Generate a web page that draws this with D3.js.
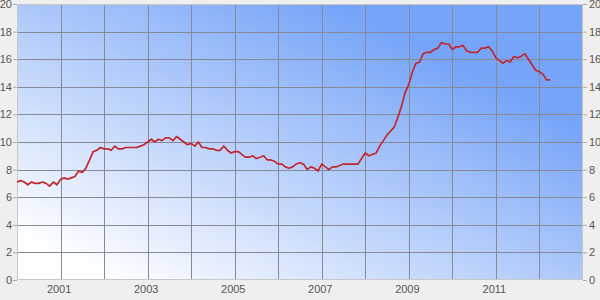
<!DOCTYPE html>
<html>
<head>
<meta charset="utf-8">
<script src="https://cdn.jsdelivr.net/npm/d3@7"></script>
<style>
  body { margin: 0; background: #efefef; }
  svg { display: block; }
  .tick-label { font-family: "Liberation Sans", Arial, sans-serif; font-size: 11px; fill: #555; }
</style>
</head>
<body>
<svg id="chart" width="600" height="300"></svg>
<script>
// monthly rate, Jan 2000 onwards
var years = [2000, 2001, 2002, 2003, 2004, 2005, 2006, 2007, 2008, 2009, 2010, 2011, 2012];
var rates = [
  [7.1, 7.2, 7.1, 6.9, 7.1, 7.0, 7.0, 7.1, 7.0, 6.8, 7.1, 6.9],
  [7.3, 7.4, 7.3, 7.4, 7.5, 7.9, 7.8, 8.1, 8.7, 9.3, 9.4, 9.6],
  [9.5, 9.5, 9.4, 9.7, 9.5, 9.5, 9.6, 9.6, 9.6, 9.6, 9.7, 9.8],
  [10.0, 10.2, 10.0, 10.2, 10.1, 10.3, 10.3, 10.1, 10.4, 10.2, 10.0, 9.8],
  [9.9, 9.7, 10.0, 9.6, 9.6, 9.5, 9.5, 9.4, 9.4, 9.7, 9.4, 9.2],
  [9.3, 9.3, 9.1, 8.9, 8.9, 9.0, 8.8, 8.9, 9.0, 8.7, 8.7, 8.6],
  [8.4, 8.4, 8.2, 8.1, 8.2, 8.4, 8.5, 8.4, 8.0, 8.2, 8.1, 7.9],
  [8.4, 8.2, 8.0, 8.2, 8.2, 8.3, 8.4, 8.4, 8.4, 8.4, 8.4, 8.8],
  [9.2, 9.0, 9.1, 9.2, 9.7, 10.1, 10.5, 10.8, 11.1, 11.8, 12.6, 13.6],
  [14.2, 15.1, 15.7, 15.8, 16.4, 16.5, 16.5, 16.7, 16.8, 17.2, 17.1, 17.1],
  [16.7, 16.9, 16.9, 17.0, 16.6, 16.5, 16.5, 16.5, 16.8, 16.8, 16.9, 16.6],
  [16.1, 15.9, 15.7, 15.9, 15.8, 16.2, 16.1, 16.2, 16.4, 16.0, 15.6, 15.2],
  [15.1, 14.9, 14.5, 14.5]
];
var yTicks = [0, 2, 4, 6, 8, 10, 12, 14, 16, 18, 20];
var xLabelYears = [2001, 2003, 2005, 2007, 2009, 2011];

var plotLeft = 17, plotRight = 583, plotTop = 4, plotBottom = 280;

var points = [];
rates.forEach(function(row, i) {
  row.forEach(function(v, m) {
    points.push({date: new Date(years[i], m, 1), value: v});
  });
});

var x = d3.scaleTime()
  .domain([new Date(2000, 0, 1), new Date(2013, 0, 1)])
  .range([plotLeft, plotRight]);
var y = d3.scaleLinear().domain([0, 20]).range([plotBottom, plotTop]);

var svg = d3.select('#chart');

var grad = svg.append('defs').append('linearGradient')
  .attr('id', 'bg')
  .attr('x1', 0).attr('y1', 1).attr('x2', 1).attr('y2', 0);
grad.append('stop').attr('offset', 0.08).attr('stop-color', '#ffffff');
grad.append('stop').attr('offset', 0.78).attr('stop-color', '#76a4f8');
grad.append('stop').attr('offset', 1).attr('stop-color', '#76a4f8');

svg.append('rect')
  .attr('x', plotLeft).attr('y', plotTop)
  .attr('width', plotRight - plotLeft).attr('height', plotBottom - plotTop)
  .attr('fill', 'url(#bg)');

// grid
var gridYears = d3.range(2001, 2013).map(function(yr) { return new Date(yr, 0, 1); });
svg.append('g').selectAll('line').data(gridYears).join('line')
  .attr('x1', function(d) { return Math.round(x(d)) + 0.5; })
  .attr('x2', function(d) { return Math.round(x(d)) + 0.5; })
  .attr('y1', plotTop).attr('y2', plotBottom)
  .attr('stroke', '#858a94').attr('stroke-width', 1);
svg.append('g').selectAll('line').data(yTicks.slice(1, -1)).join('line')
  .attr('x1', plotLeft).attr('x2', plotRight)
  .attr('y1', function(d) { return Math.round(y(d)) + 0.5; })
  .attr('y2', function(d) { return Math.round(y(d)) + 0.5; })
  .attr('stroke', '#858a94').attr('stroke-width', 1);

// frame
svg.append('rect')
  .attr('x', plotLeft + 0.5).attr('y', plotTop + 0.5)
  .attr('width', plotRight - plotLeft - 1).attr('height', plotBottom - plotTop - 1)
  .attr('fill', 'none').attr('stroke', '#c8c8c8');

// y axes, both sides
var yLeft = d3.axisLeft(y).tickValues(yTicks).tickSize(4).tickPadding(1);
var yRight = d3.axisRight(y).tickValues(yTicks).tickSize(4).tickPadding(2);
[[yLeft, plotLeft], [yRight, plotRight]].forEach(function(a) {
  var g = svg.append('g').attr('transform', 'translate(' + a[1] + ',0)').call(a[0]);
  g.select('.domain').remove();
  g.selectAll('line').attr('stroke', '#aaa');
  g.selectAll('text').attr('class', 'tick-label').attr('font-family', null).attr('font-size', null);
});

// x labels
var xAxis = d3.axisBottom(x)
  .tickValues(xLabelYears.map(function(yr) { return new Date(yr, 0, 1); }))
  .tickFormat(d3.timeFormat('%Y'))
  .tickSize(0).tickPadding(5);
var gx = svg.append('g').attr('transform', 'translate(-2,' + plotBottom + ')').call(xAxis);
gx.select('.domain').remove();
gx.selectAll('text').attr('class', 'tick-label').attr('font-family', null).attr('font-size', null);

var line = d3.line()
  .x(function(d) { return x(d.date); })
  .y(function(d) { return y(d.value); });

svg.append('path')
  .datum(points)
  .attr('d', line)
  .attr('fill', 'none')
  .attr('stroke', '#c1272d')
  .attr('stroke-width', 1.7)
  .attr('stroke-linejoin', 'round');
</script>
</body>
</html>
